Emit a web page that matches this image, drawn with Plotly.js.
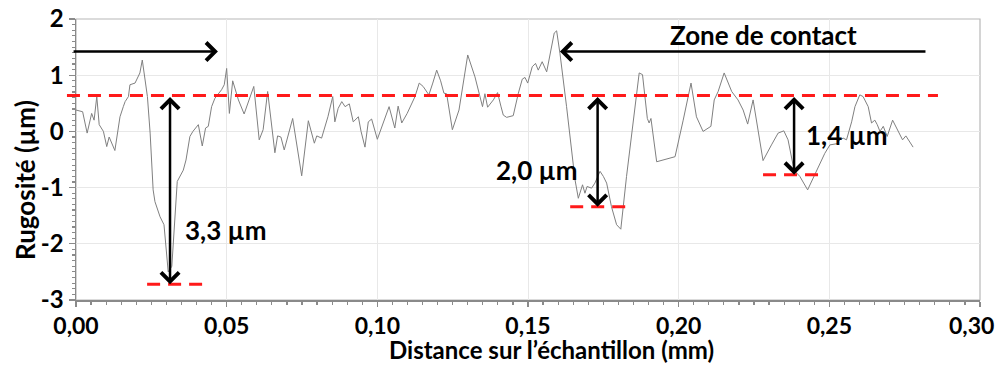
<!DOCTYPE html>
<html>
<head>
<meta charset="utf-8">
<script src="https://cdn.plot.ly/plotly-3.0.1.min.js"></script>
<style>html,body{margin:0;padding:0;background:#fff;}#chart{width:1002px;height:365px;}</style>
</head>
<body>
<div id="chart"></div>
<script>
// Profile data: distance along sample (mm) and roughness (µm)
const distanceMm = [0.0000,0.0022,0.0037,0.0052,0.0060,0.0069,0.0077,0.0091,0.0102,0.0110,0.0129,0.0146,0.0157,0.0163,0.0174,0.0179,0.0196,0.0212,0.0220,0.0237,0.0246,0.0256,0.0262,0.0279,0.0292,0.0306,0.0318,0.0328,0.0336,0.0356,0.0365,0.0378,0.0388,0.0406,0.0419,0.0430,0.0439,0.0450,0.0461,0.0483,0.0492,0.0500,0.0509,0.0520,0.0539,0.0558,0.0574,0.0590,0.0608,0.0621,0.0636,0.0660,0.0669,0.0680,0.0691,0.0719,0.0749,0.0771,0.0791,0.0799,0.0815,0.0836,0.0852,0.0859,0.0870,0.0882,0.0893,0.0907,0.0920,0.0937,0.0946,0.0959,0.0970,0.0981,0.1000,0.1020,0.1039,0.1058,0.1069,0.1081,0.1099,0.1125,0.1139,0.1152,0.1171,0.1184,0.1197,0.1210,0.1221,0.1230,0.1249,0.1271,0.1300,0.1324,0.1338,0.1349,0.1357,0.1366,0.1385,0.1399,0.1410,0.1418,0.1429,0.1451,0.1468,0.1481,0.1490,0.1499,0.1514,0.1525,0.1534,0.1547,0.1562,0.1576,0.1587,0.1595,0.1606,0.1628,0.1645,0.1656,0.1667,0.1681,0.1689,0.1696,0.1711,0.1722,0.1739,0.1750,0.1761,0.1777,0.1794,0.1808,0.1827,0.1849,0.1869,0.1880,0.1896,0.1902,0.1908,0.1927,0.1988,0.2015,0.2041,0.2059,0.2081,0.2107,0.2118,0.2131,0.2151,0.2176,0.2197,0.2214,0.2229,0.2247,0.2280,0.2308,0.2330,0.2349,0.2363,0.2383,0.2402,0.2428,0.2458,0.2485,0.2502,0.2524,0.2535,0.2546,0.2557,0.2574,0.2585,0.2601,0.2612,0.2629,0.2640,0.2651,0.2659,0.2668,0.2679,0.2692,0.2710,0.2728,0.2743,0.2754,0.2778];
const rugositeUm = [0.38,0.35,-0.03,0.32,0.20,0.62,0.12,0.00,-0.27,-0.10,-0.34,0.26,0.44,0.53,0.62,0.83,0.86,1.04,1.27,0.62,-0.03,-1.04,-1.25,-1.52,-1.66,-2.50,-2.40,-1.52,-0.89,-0.69,-0.51,-0.09,0.00,0.12,-0.26,0.06,0.09,0.44,0.59,0.74,0.83,1.12,0.32,0.90,0.56,0.31,0.56,0.80,-0.15,0.03,0.71,-0.38,-0.08,-0.10,-0.33,0.23,-0.79,0.19,-0.21,-0.08,-0.12,0.26,0.62,0.17,0.41,0.53,0.44,0.49,0.17,0.26,0.00,-0.28,0.17,0.22,-0.14,0.15,0.44,0.06,0.45,0.15,0.32,0.62,0.86,0.80,0.65,0.86,1.09,0.90,0.68,0.67,0.03,0.38,1.36,0.97,0.68,0.44,0.67,0.43,0.56,0.69,0.45,0.29,0.25,0.28,0.68,0.93,0.96,0.86,1.15,1.21,1.09,1.24,1.06,1.42,1.75,1.79,1.39,0.44,-0.39,-0.86,-1.19,-0.95,-1.10,-0.98,-1.01,-0.92,-0.71,-0.80,-0.92,-1.34,-1.66,-1.74,-0.80,0.20,1.04,1.01,0.23,0.15,0.23,-0.54,-0.45,0.20,0.86,0.26,0.00,0.09,0.56,0.71,1.04,0.71,0.56,0.38,0.13,0.56,-0.52,-0.24,-0.03,0.01,-0.15,-0.69,-0.80,-1.04,-0.69,-0.39,-0.24,-0.22,-0.15,-0.12,-0.15,0.17,0.44,0.65,0.62,0.44,0.15,0.20,0.12,0.00,0.09,-0.09,0.20,0.00,-0.15,-0.08,-0.28];

// Reference levels (µm) and depth annotations
const topLevel = 0.64;
const valleyLevels = [-2.72, -1.34, -0.77];
const valleyLabels = ["3,3 µm", "2,0 µm", "1,4 µm"];
const valleyX = [0.0312, 0.1731, 0.2383];
const valleySegX0 = [0.0236, 0.1640, 0.2280];
const valleySegX1 = [0.0438, 0.1844, 0.2485];
const labelX = [0.0498, 0.1530, 0.2558];
const labelY = [-1.75, -0.68, -0.06];

const yTickVals = [-3, -2, -1, 0, 1, 2];
const yTickText = ["-3", "-2", "-1", "0", "1", "2"];
const xTickVals = [0, 0.05, 0.10, 0.15, 0.20, 0.25, 0.30];
// last label is drawn as an annotation, nudged left so it stays inside the page
const xTickText = ["0,00", "0,05", "0,10", "0,15", "0,20", "0,25", ""];
const lastXTickVal = 0.30;
const lastXTickText = "0,30";

const FONT = "Lato, 'Open Sans', sans-serif";

const trace = {
  x: distanceMm, y: rugositeUm, type: 'scatter', mode: 'lines',
  line: {color: '#808080', width: 1}, hoverinfo: 'skip', showlegend: false
};

const shapes = [
  {type: 'rect', xref: 'paper', yref: 'paper', x0: 0, x1: 1, y0: 0, y1: 1,
   line: {color: '#b8b8b8', width: 1.2}, layer: 'below'},
  {type: 'line', xref: 'paper', yref: 'y', x0: -0.01, x1: 0.9535, y0: topLevel, y1: topLevel,
   line: {color: '#ff1a1a', width: 3, dash: '13px,8px'}}
];
for (let i = 0; i < valleyLevels.length; i++) {
  shapes.push({type: 'line', xref: 'x', yref: 'y', x0: valleySegX0[i], x1: valleySegX1[i],
    y0: valleyLevels[i], y1: valleyLevels[i], line: {color: '#ff1a1a', width: 3, dash: '13px,8px'}});
}

const annotations = [
  // Top-left arrow
  {x: 0.0471, y: 1.42, ax: -0.0013, ay: 1.42, xref: 'x', yref: 'y', axref: 'x', ayref: 'y',
   text: '', showarrow: true, arrowhead: 4, arrowsize: 1.4, arrowwidth: 2.5, arrowcolor: '#000'},
  // Zone de contact arrow
  {x: 0.1606, y: 1.42, ax: 0.2824, ay: 1.42, xref: 'x', yref: 'y', axref: 'x', ayref: 'y',
   text: '', showarrow: true, arrowhead: 4, arrowsize: 1.4, arrowwidth: 2.5, arrowcolor: '#000'},
  {x: 0.2283, y: 1.72, xref: 'x', yref: 'y', xanchor: 'center', yanchor: 'middle',
   text: 'Zone de contact', showarrow: false,
   font: {family: FONT, size: 26, color: '#000', weight: 'bold'}},
  // Last x tick label
  {x: lastXTickVal, y: -0.09, xref: 'x', yref: 'paper', xanchor: 'center', yanchor: 'middle',
   xshift: -9, text: lastXTickText, showarrow: false,
   font: {family: FONT, size: 23, color: '#000', weight: 'bold'}},
  // Axis titles
  {x: 0.5265, y: -0.1744, xref: 'paper', yref: 'paper', xanchor: 'center', yanchor: 'middle',
   text: 'Distance sur l’échantillon (mm)',
   showarrow: false, font: {family: FONT, size: 24, color: '#000', weight: 'bold'}},
  {x: -0.0564, y: 0.427, xref: 'paper', yref: 'paper', xanchor: 'center', yanchor: 'middle',
   text: 'Rugosité (µm)', textangle: -90,
   showarrow: false, font: {family: FONT, size: 26, color: '#000', weight: 'bold'}}
];
for (let i = 0; i < valleyLevels.length; i++) {
  annotations.push({x: valleyX[i], y: valleyLevels[i], ax: valleyX[i], ay: topLevel,
    xref: 'x', yref: 'y', axref: 'x', ayref: 'y', text: '', showarrow: true,
    arrowhead: 4, startarrowhead: 4, arrowside: 'end+start', arrowsize: 1.4, startarrowsize: 1.4,
    arrowwidth: 2.5, arrowcolor: '#000'});
  annotations.push({x: labelX[i], y: labelY[i], xref: 'x', yref: 'y', xanchor: 'center', yanchor: 'middle',
    text: valleyLabels[i],
    showarrow: false, font: {family: FONT, size: 26, color: '#000', weight: 'bold'}});
}

const layout = {
  width: 1002, height: 365,
  margin: {l: 76, r: 22, t: 19, b: 65},
  paper_bgcolor: '#fff', plot_bgcolor: '#fff',
  separators: ', ',
  showlegend: false,
  xaxis: {
    range: [0, 0.30], tickvals: xTickVals, ticktext: xTickText,
    showgrid: true, gridcolor: '#e8e8e8', gridwidth: 1, zeroline: false,
    showline: true, linecolor: '#8a8a8a', linewidth: 1.5,
    ticks: 'outside', ticklen: 5, tickcolor: '#8a8a8a', tickwidth: 1.2,
    minor: {dtick: 0.005, ticks: 'outside', ticklen: 3, tickcolor: '#8a8a8a', showgrid: false},
    ticklabeloverflow: 'allow',
    tickfont: {family: FONT, size: 23, color: '#000', weight: 'bold'}, fixedrange: true
  },
  yaxis: {
    range: [-3, 2], tickvals: yTickVals, ticktext: yTickText,
    showgrid: true, gridcolor: '#e8e8e8', gridwidth: 1, zeroline: false,
    showline: true, linecolor: '#8a8a8a', linewidth: 1.5,
    ticks: 'outside', ticklen: 6, tickcolor: '#8a8a8a', tickwidth: 1.2,
    minor: {dtick: 0.1, ticks: 'outside', ticklen: 3, tickcolor: '#8a8a8a', showgrid: false},
    tickfont: {family: FONT, size: 24, color: '#000', weight: 'bold'}, fixedrange: true
  },
  shapes: shapes,
  annotations: annotations
};

Plotly.newPlot('chart', [trace], layout, {displayModeBar: false, staticPlot: true});
</script>
</body>
</html>
